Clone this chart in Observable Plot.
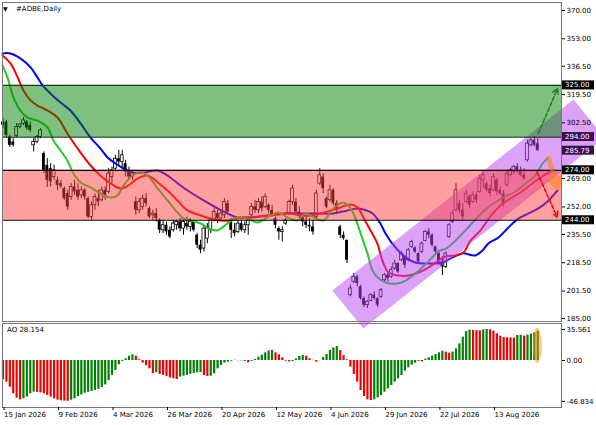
<!DOCTYPE html>
<html>
<head>
<meta charset="utf-8">
<script src="https://cdn.jsdelivr.net/npm/d3@7"></script>
<script src="https://cdn.jsdelivr.net/npm/@observablehq/plot@0.6"></script>
<style>
  html,body{margin:0;padding:0;background:#fff;}
  #wrap{position:relative;width:596px;height:425px;overflow:hidden;font-family:"DejaVu Sans",sans-serif;color:#000;}
  #main,#ao{position:absolute;left:0;}
  #main{top:0;}
  #ao{top:322px;}
  .t{position:absolute;font-size:7px;line-height:8px;white-space:nowrap;}
</style>
</head>
<body>
<div id="wrap">
  <div id="ao"></div>
  <div id="main"></div>
  <div class="t" style="left:3px;top:5px;font-size:6px;">▼</div>
  <div class="t" style="left:16px;top:5px;">#ADBE,Daily</div>
  <div class="t" style="left:7px;top:326px;">AO 28.154</div>
</div>
<script>
// ---- daily OHLC (bar index 0 = 15 Jan 2026, trading days) ----
const open = [303,303,294,291,294.5,300,302,303,301,289, 291,294,284,277,275,270,268,266,263,260,
  258,264,262,259,262,257,246,253,257,256, 262,261,270,275,281,279,278,274,270,255,
  250,252,257,251,247,248,244,238,241,238, 238,241,243,239,242,240,243,235,229,227,
  233,238,244,248,245,247,254,244,238,237, 242,238,241,247,252,250,255,252,253,250,
  245,239,237,242,248,255,255,249,247,243, 241,240,246,266,270,257,256,262,254,240,
  235,232,199,207,210,204,197,193,195.5,199, 197,198,208,211,210,215,218,220,222,220,
  228,227.5,224,225,231.5,237,235,228,224,219, 216,234,243,250,254,250,255,258,255,259,
  261,268,266,263,262,268,262,260,265,271, 273,276,274,271,280,289,292,290];
const high = [305,304,295,293,302,302,305.7,304,303,293, 295,299,285,281,278,277,270,268,264,262,
  266,268,266,264,263,258,255,260,262,264, 264,275,276,283,286,286,280,276,274,258,
  257,259,260,252,250,251,245,244,243,240, 244,244,245,245,246,245,244,236,232,241,
  242,245,251,250,250,257,256,245,242,244, 244,243,246,254,256,257,258,260,254,253,
  246,240,240,245,256,265,257,252,248,246, 245,244,262,275,272,258,265,263,256,241,
  237,232,205,212,211,205,198,196,200,201, 197.5,203,212,213,216,220,218.5,225,223,227,
  232,228,224.5,231,238,239,236,228.5,225,222, 225,242,250,266,256,254,262,259,261,261,
  271,273,267,265,272,269,264,262,274,275, 277,278,276,275,292,293,294,293];
const low = [299,293.7,287.7,288,293.7,299,301,298,296.7,285, 290,293,272,263.7,264,268,262,263,256,250,
  256,259,256,257,256,245,244,250,252,255, 256,260,266,273,276,275,270,268,268,247,
  248,250,252,245,244,243,236,236,235,233, 237,238,237,235,238,237,237,227,224,225,
  230,236,243,242,244,245,247,233,234,236, 237,236,235,246,248,248,249,251,248,246,
  239,232,231,241,247,253,248,245,240,239, 237,235,245,265,260,251,255,253,248,233,
  232,218,198,206,204,196,191.6,191,195,196, 191.6,197,207,207,209,214,212,219,215,219,
  227,224,218,224,231,233,228,224,217,210.8, 215,233,242,249,248,244,254,251,254,254,
  260,263,261,258,261,259,259,252,264,270, 271,272,270,268,279,288,288,285.5];
const close = [301,295,289,289,300,301.5,304,299.5,298,291, 294,298,274,268,267,274,265,264.5,257,252,
  264,261,258,262,258,246,253,258,255,262, 258,272,274,281,279,283,273,270,272,250,
  255,257,254,246,248,245,238,241,237,234, 242,243,239,243,240,243,238,229,226,239,
  240,244,249,245,248,255,249,238,236,242, 238,241,244,252,250,255,251,258,250,247,
  241,237,238,244,255,263,249,247,243,241, 240,237,260,271,263,252,262,254,250,235,
  233,220,203,210,206,197,193,195,199,197, 193,202,211,209,214,218,213,224,217,226,
  231,225,219,230,237,235,229,225,219,216, 224,241,248,262,250,246,260,253,259,256,
  269,271,262,260,270,261,260,254,272,274, 276,274,271,269,290,292,289,285.79];

// ---- Alligator lines (bar index, price), shifted forward past the last bar ----
const jawX = [-0.15,2.2,5.1,8.1,10.1,11.6,13.9,16.9,19.8,22.8,25.7,28.6,30.7,33.0,35.4,38.0,41.3,45.4,48.3,52.1,55.1,58.9,63.0,65.9,68.8,72.7,77.7,82.4,87.3,92.3,97.0,101.1,104.1,105.8,108.5,110.8,112.3,115.2,118.2,121.1,124.9,129.0,132.0,134.9,138.7,140.8,142.5,145.5,148.4,151.4,154.3,157.2,160.2,162.8];
const jawY = [344.2,344.2,341.2,335.8,329.8,325.0,320.2,314.7,309.9,302.1,293.7,287.1,281.7,278.1,275.1,272.7,272.7,273.9,270.9,264.9,260.7,255.9,251.1,248.1,245.7,245.7,246.9,248.1,248.1,248.1,248.1,249.9,251.1,250.5,248.1,242.1,236.1,227.7,221.7,218.6,218.0,218.6,221.7,224.1,222.9,225.9,230.1,233.7,239.7,245.1,248.1,251.1,255.9,261.9];
const teethX = [-0.15,2.2,4.3,6.0,8.1,10.1,13.1,16.0,18.9,21.9,25.7,28.6,31.6,34.5,36.8,39.5,42.4,45.4,48.3,51.2,54.2,58.0,60.9,63.9,66.8,69.7,72.7,78.5,84.4,87.3,90.3,93.2,96.2,99.1,102.0,104.1,105.8,107.9,109.9,111.4,113.2,116.1,119.1,122.0,124.9,127.9,129.9,132.9,135.2,137.3,140.2,143.1,146.1,149.0,151.9,155.8,158.7,161.6];
const teethY = [343.0,338.2,329.8,322.0,316.0,312.9,309.9,305.7,296.1,287.1,276.9,270.9,266.1,263.1,264.9,269.1,270.9,266.7,261.9,255.9,249.9,246.9,245.1,243.9,243.9,245.7,245.7,246.9,248.1,246.9,246.9,248.1,249.9,251.7,253.5,251.7,245.7,237.9,230.1,219.8,212.6,210.8,210.8,212.6,215.6,219.8,222.3,222.9,224.7,231.9,237.9,246.3,252.9,257.1,260.7,266.7,270.9,273.9];
const lipsX = [-0.15,1.3,3.1,5.1,7.2,10.1,13.1,14.8,16.9,18.9,20.7,22.8,25.7,28.6,31.6,33.6,35.4,38.0,40.4,42.4,45.4,48.3,51.2,53.0,55.1,58.0,60.3,63.0,65.9,68.8,71.8,74.7,78.5,80.9,83.5,86.5,88.8,91.2,94.1,97.0,99.7,101.4,102.9,105.0,107.0,108.5,110.0,112.3,115.8,118.2,121.1,124.9,127.9,130.2,132.9,135.8,138.7,141.7,144.0,146.9,150.5,153.4,156.3,158.4,159.9];
const lipsY = [337.0,329.8,317.7,309.9,305.7,303.9,299.7,291.9,285.9,279.9,272.1,266.7,263.7,260.1,257.7,258.9,264.9,270.9,272.7,270.9,263.1,255.9,248.7,245.1,243.9,242.1,239.1,237.9,242.1,245.7,245.1,242.7,246.9,248.7,245.7,243.9,248.1,245.7,243.9,251.1,254.7,252.9,248.1,236.1,224.1,213.8,209.6,206.6,206.0,207.8,212.0,219.2,225.3,227.1,231.9,237.9,244.5,250.5,254.1,257.7,261.3,266.1,270.9,278.1,281.1];

// ---- Awesome Oscillator ----
const aoVal = [-22,-24.8,-30.6,-38.2,-43.2,-45.1,-44.0,-42.0,-38.2,-36.3,
  -36.6,-37.1,-38.2,-40.1,-42.0,-44.0,-45.5,-46.2,-46.6,-46.834,
  -45.5,-44.0,-41.5,-39.5,-37.5,-36.5,-35.5,-34.5,-33.0,-31.0,
  -28.0,-23.0,-17.0,-11.5,-5.0,-1.0,2.0,5.0,6.5,5.0,
  1.0,-3.0,-6.0,-9.5,-15.0,-14.0,-16.0,-17.0,-18.5,-20.0,
  -21.0,-21.8,-19.0,-18.0,-17.0,-16.0,-15.0,-14.0,-13.8,-17.2,
  -18.3,-18.0,-15.3,-9.6,-5.7,-3.0,-1.9,-0.8,0.3,-0.3,
  -0.4,-1.0,-2.7,-1.0,1.2,3.8,6.1,8.8,11.0,11.5,
  8.8,6.5,3.0,-0.8,-1.5,-1.1,1.9,4.6,5.7,5.0,
  1.9,0.2,-1.9,-0.2,3.4,6.9,11.5,14.5,16.0,11.5,
  5.7,0.8,-7.6,-16.0,-24.8,-34.4,-41.3,-45.1,-45.9,-45.1,
  -42.8,-40.1,-36.3,-32.5,-28.7,-24.8,-21.0,-17.2,-12.2,-8.4,
  -5.4,-3.1,-1.0,-1.6,1.5,3.1,5.0,6.9,8.8,10.7,
  9.6,8.4,9.6,13.4,19.1,26.8,33.3,34.8,34.5,34.2,
  34.0,35.2,35.561,35.2,33.6,30.6,27.9,26.4,26.0,25.9,
  25.8,28.7,28.8,27.9,29.1,30.2,31.7,33.6];

// ---- levels, channel, arrows, ticks ----
const zoneLo = [294, 244];
const zoneHi = [325, 274];
const chanX = [96.7, 105.8, 176.6, 167.5];
const chanY = [201.8, 179.0, 293.7, 316.5];
const arrX1 = [157.2, 156.8, 160.2];
const arrY1 = [296.1, 272.9, 281.1];
const arrX2 = [162.8, 162.7, 162.8];
const arrY2 = [323.2, 245.9, 263.7];
const yTicks = [370, 353, 336.5, 319.5, 302.5, 269, 252, 235.5, 218.5, 201.5, 185];
const hlVals = [325, 294, 285.79, 274, 244];
const hlFill = ["#000", "#3d0f52", "#3d0f52", "#000", "#000"];
const aoTicks = [35.561, 0, -46.834];
const aoTickLabels = ["35.561", "0.00", "-46.834"];
const dateIdx = [0, 16, 32, 48, 64, 80, 96, 112, 128, 144];
const dateLabels = ["15 Jan 2026", "9 Feb 2026", "4 Mar 2026", "26 Mar 2026", "20 Apr 2026",
  "12 May 2026", "4 Jun 2026", "29 Jun 2026", "22 Jul 2026", "13 Aug 2026"];

const N = open.length;
const idx = d3.range(N);
const xDomain = [-0.15, 163.98];
const style = {fontFamily: "DejaVu Sans", fontSize: "7px", background: "transparent", color: "#000", overflow: "visible"};
const seq = a => d3.range(a.length);

const main = Plot.plot({
  width: 596, height: 322,
  marginLeft: 2, marginRight: 35, marginTop: 2, marginBottom: 1,
  x: {domain: xDomain, axis: null},
  y: {domain: [183.2, 374.8]},
  style,
  marks: [
    Plot.ruleX(idx, {x: i => i, y1: i => low[i], y2: i => high[i], stroke: "#000", strokeWidth: 1}),
    Plot.rect(idx.filter(i => close[i] < open[i]), {x1: i => i - 0.42, x2: i => i + 0.42, y1: i => open[i], y2: i => close[i], fill: "#000"}),
    Plot.rect(idx.filter(i => close[i] >= open[i]), {x1: i => i - 0.42, x2: i => i + 0.42, y1: i => open[i], y2: i => close[i], fill: "#fff", stroke: "#000", strokeWidth: 0.8}),
    Plot.line(seq(jawX), {x: k => jawX[k], y: k => jawY[k], stroke: "#0000ff", strokeWidth: 2, curve: "catmull-rom"}),
    Plot.line(seq(teethX), {x: k => teethX[k], y: k => teethY[k], stroke: "#ff0000", strokeWidth: 2, curve: "catmull-rom"}),
    Plot.line(seq(lipsX), {x: k => lipsX[k], y: k => lipsY[k], stroke: "#22cc22", strokeWidth: 2, curve: "catmull-rom"}),
    Plot.line(seq(chanX), {x: k => chanX[k], y: k => chanY[k], fill: "#b845f0", fillOpacity: 0.5, stroke: "none"}),
    Plot.rect([0], {x1: () => xDomain[0], x2: () => xDomain[1], y1: () => zoneLo[0], y2: () => zoneHi[0], fill: "#008000", fillOpacity: 0.5}),
    Plot.rect([1], {x1: () => xDomain[0], x2: () => xDomain[1], y1: () => zoneLo[1], y2: () => zoneHi[1], fill: "#ff4040", fillOpacity: 0.5}),
    Plot.ruleY([zoneLo[0], zoneHi[0]], {stroke: "#183818", strokeWidth: 1.2}),
    Plot.ruleY([zoneLo[1], zoneHi[1]], {stroke: "#000", strokeWidth: 1.2}),
    Plot.arrow([0], {x1: k => arrX1[k], y1: k => arrY1[k], x2: k => arrX2[k], y2: k => arrY2[k], stroke: "#1a7f1a", strokeWidth: 1.5, strokeDasharray: "4,2", headLength: 6}),
    Plot.arrow([1], {x1: k => arrX1[k], y1: k => arrY1[k], x2: k => arrX2[k], y2: k => arrY2[k], stroke: "#ee0000", strokeWidth: 1.5, strokeDasharray: "4,2", headLength: 6}),
    Plot.arrow([2], {x1: k => arrX1[k], y1: k => arrY1[k], x2: k => arrX2[k], y2: k => arrY2[k], stroke: "#ff8000", strokeOpacity: 0.55, strokeWidth: 5, headLength: 5}),
    Plot.frame({stroke: "#777"}),
    Plot.axisY({anchor: "right", ticks: yTicks, tickFormat: d => d.toFixed(2), tickSize: 3, tickPadding: 2, label: null})
  ]
});

// AO colours: green when rising vs previous bar, red when falling, same -> previous colour
const aoUp = [];
aoVal.forEach((v, i) => { aoUp.push(i === 0 ? false : v > aoVal[i - 1] ? true : v < aoVal[i - 1] ? false : aoUp[i - 1]); });

const ao = Plot.plot({
  width: 596, height: 103,
  marginLeft: 2, marginRight: 35, marginTop: 1, marginBottom: 18,
  x: {domain: xDomain},
  y: {domain: [-53.91, 42.44]},
  style,
  marks: [
    Plot.ruleX(idx.filter(i => aoUp[i]), {x: i => i, y1: () => 0, y2: i => aoVal[i], stroke: "#008000", strokeWidth: 2.2}),
    Plot.ruleX(idx.filter(i => !aoUp[i]), {x: i => i, y1: () => 0, y2: i => aoVal[i], stroke: "#ee0000", strokeWidth: 2.2}),
    Plot.frame({stroke: "#777"}),
    Plot.axisY({anchor: "right", ticks: aoTicks, tickFormat: d => aoTickLabels[aoTicks.indexOf(d)], tickSize: 3, tickPadding: 2, label: null}),
    Plot.axisX({anchor: "bottom", ticks: dateIdx, tickFormat: d => dateLabels[dateIdx.indexOf(d)], tickSize: 3, tickPadding: 2, textAnchor: "start", dx: 1, label: null})
  ]
});

document.getElementById("main").appendChild(main);
document.getElementById("ao").appendChild(ao);

// highlighted price labels on the right axis (positioned with the plot's y scale)
const ys = main.scale("y");
const yS = d3.scaleLinear(ys.domain, ys.range);
const g = d3.select(main).append("g").attr("text-anchor", "start");
hlVals.forEach((v, k) => {
  g.append("rect").attr("x", 562).attr("y", yS(v) - 4.5).attr("width", 32).attr("height", 9).attr("fill", hlFill[k]);
  g.append("text").attr("x", 565).attr("y", yS(v)).attr("dy", "0.35em").attr("text-anchor", "start")
    .attr("fill", "#fff").attr("font-family", "DejaVu Sans").attr("font-size", 7).text(v.toFixed(2));
});

// orange highlight around the last AO bar
const axs = ao.scale("x"), ays = ao.scale("y");
const xA = d3.scaleLinear(axs.domain, axs.range), yA = d3.scaleLinear(ays.domain, ays.range);
const last = N - 1;
d3.select(ao).append("ellipse")
  .attr("cx", xA(last)).attr("cy", yA(aoVal[last] / 2))
  .attr("rx", 4.5).attr("ry", (yA(0) - yA(aoVal[last])) / 2 + 3)
  .attr("fill", "#ff8c1a").attr("fill-opacity", 0.5);
</script>
</body>
</html>
